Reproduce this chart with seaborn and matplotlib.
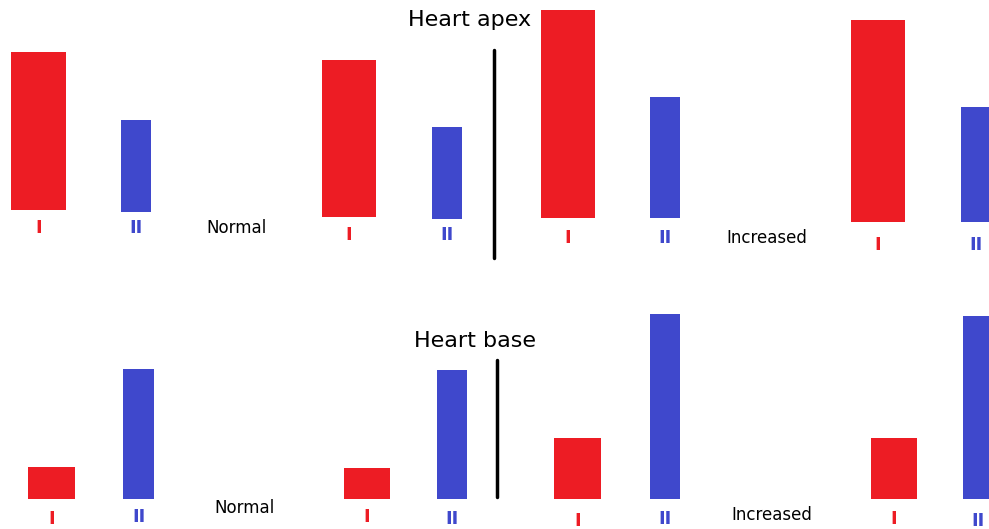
import matplotlib
matplotlib.use('Agg')
import matplotlib.pyplot as plt
import seaborn as sns

sns.set_style('white')
plt.rcParams['font.family'] = ['DejaVu Sans']
plt.rcParams['text.color'] = 'black'

RED = '#ED1C24'
BLUE = '#3F48CC'

# sounds: I, II for (normal left, normal right, increased left, increased right)
labels = ['I', 'II', 'I', 'II', 'I', 'II', 'I', 'II']
colors = [RED, BLUE] * 4

# heart apex row (values measured upward from figure bottom)
apex_x = [38.5, 136, 349, 447, 568, 665, 878, 976]
apex_w = [55, 30, 54, 30, 54, 30, 54, 30]
apex_bottom = [319, 317, 312, 310, 311, 311, 307, 307]
apex_height = [158, 92, 157, 92, 208, 121, 202, 115]
apex_label_y = [301, 301, 294, 294, 291, 291, 284, 284]

# heart base row
base_x = [51.5, 138.5, 367, 452, 577.5, 665, 894, 978]
base_w = [47, 31, 46, 30, 47, 30, 46, 30]
base_bottom = [30, 30, 30, 30, 30, 30, 30, 30]
base_height = [32, 130, 31, 129, 61, 185, 61, 183]
base_label_y = [10, 12, 12, 10, 8, 10, 10, 8]

fig = plt.figure(figsize=(9.89, 5.29), dpi=100)
ax = fig.add_axes([0, 0, 1, 1])
ax.set_xlim(0, 989)
ax.set_ylim(0, 529)
ax.axis('off')

for xs, ws, bs, hs, ly in [(apex_x, apex_w, apex_bottom, apex_height, apex_label_y),
                           (base_x, base_w, base_bottom, base_height, base_label_y)]:
    ax.bar(xs, hs, width=ws, bottom=bs, color=colors, edgecolor='none')
    for x, lab, c, y in zip(xs, labels, colors, ly):
        ax.text(x, y, lab, color=c, fontsize=13, fontweight='bold', ha='center', va='center')

# separators
ax.plot([494, 494], [271, 479], color='black', lw=2.5)
ax.plot([497, 497], [32, 169], color='black', lw=2.5)

ax.text(470, 509, 'Heart apex', fontsize=16, ha='center', va='center')
ax.text(475, 188, 'Heart base', fontsize=16, ha='center', va='center')
ax.text(236, 301, 'Normal', fontsize=12, ha='center', va='center')
ax.text(245, 21, 'Normal', fontsize=12, ha='center', va='center')
ax.text(767, 291, 'Increased', fontsize=12, ha='center', va='center')
ax.text(772, 14, 'Increased', fontsize=12, ha='center', va='center')

fig.savefig('out.png', dpi=100)
